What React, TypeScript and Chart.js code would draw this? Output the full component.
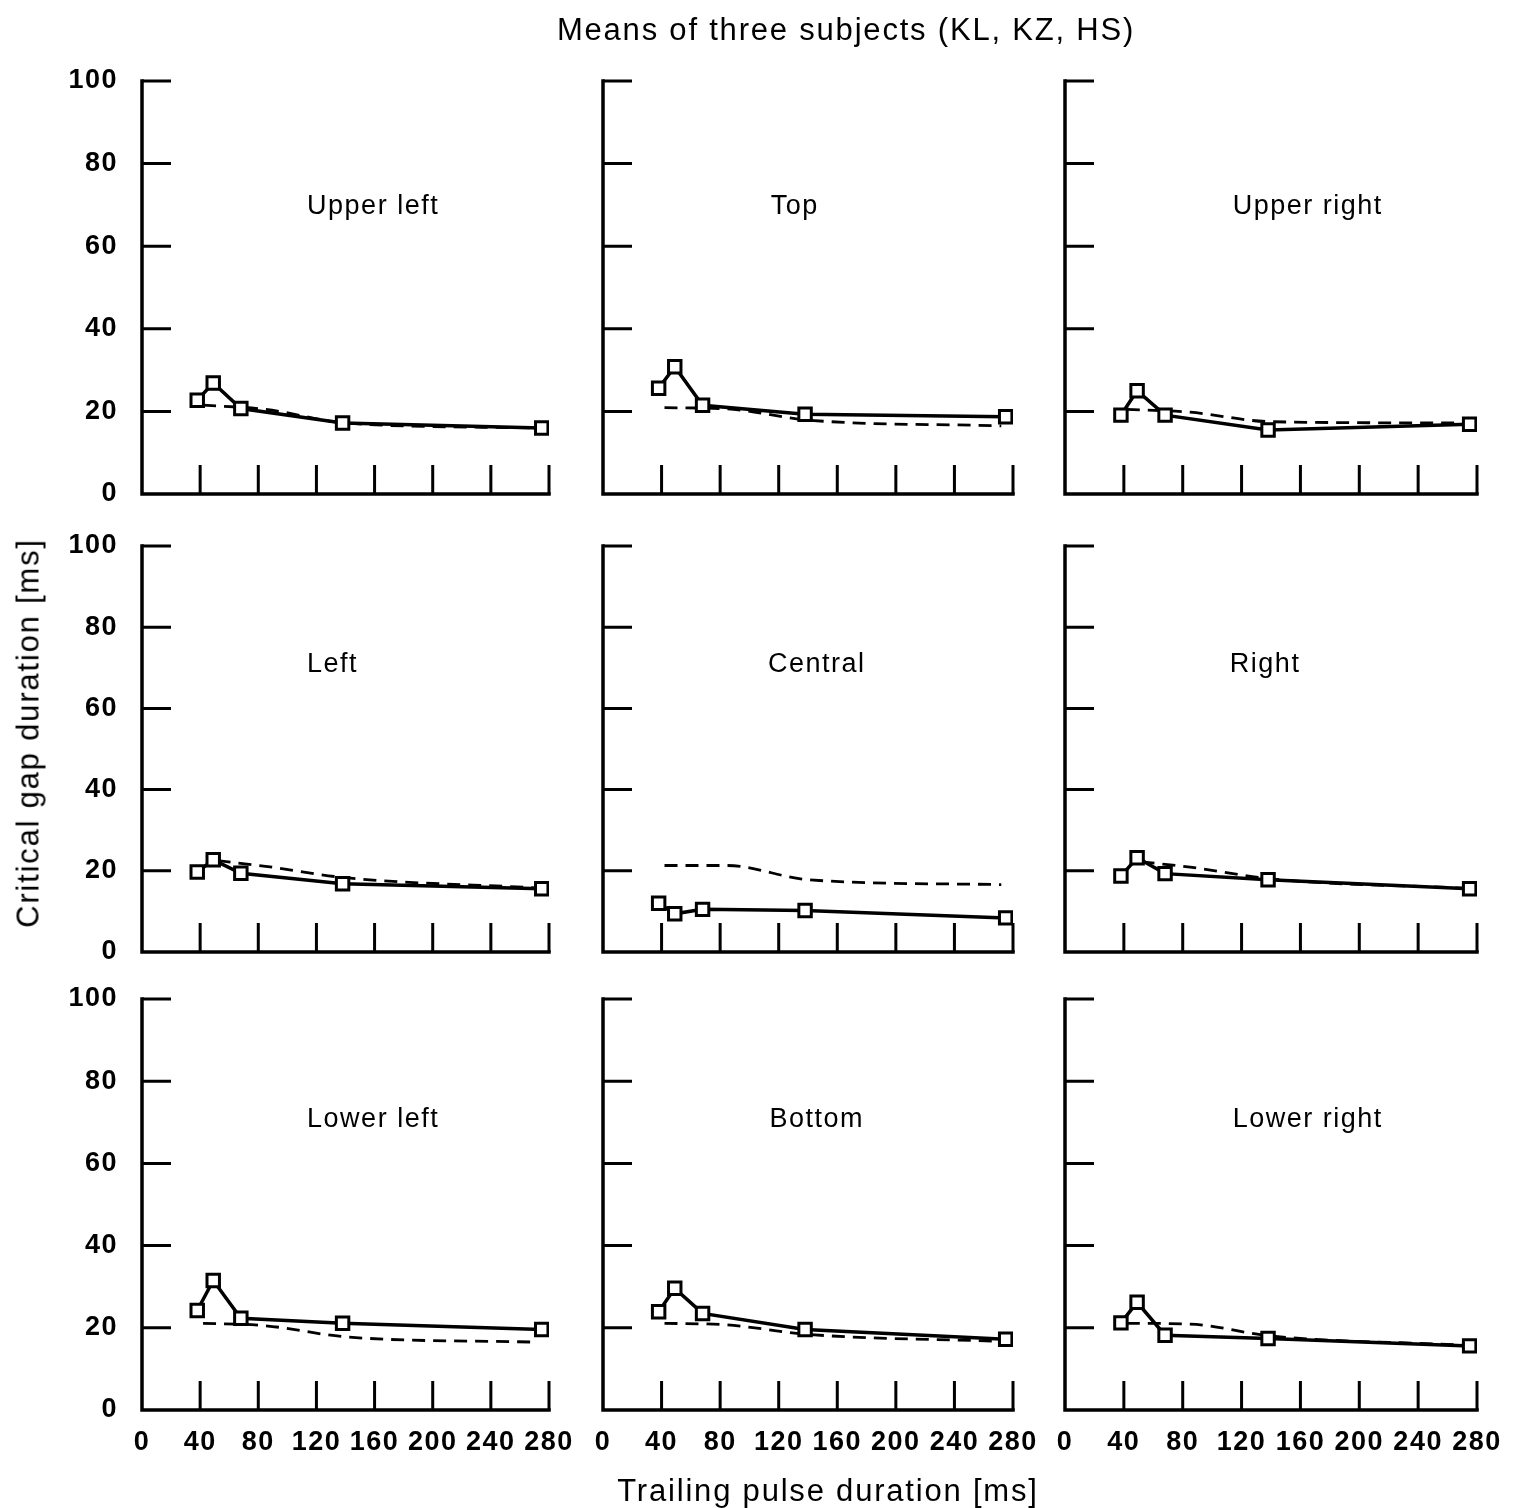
import React, { useEffect, useRef } from "react";
import { Chart, registerables } from "chart.js";

Chart.register(...registerables);

// ---------- data ----------
const panelNames = [
  "Upper left", "Top", "Upper right",
  "Left", "Central", "Right",
  "Lower left", "Bottom", "Lower right",
];

// trailing pulse durations (ms) of the measured points
const pulseDurations = [38, 49, 68, 138, 275];

// critical gap duration (ms), measured (solid line, squares)
const gapUpperLeft = [22.7, 26.9, 20.7, 17.2, 16.0];
const gapTop = [25.6, 30.8, 21.5, 19.3, 18.7];
const gapUpperRight = [19.1, 25.0, 19.1, 15.5, 16.9];
const gapLeft = [19.7, 22.7, 19.4, 16.8, 15.6];
const gapCentral = [12.0, 9.4, 10.5, 10.2, 8.4];
const gapRight = [18.7, 23.2, 19.3, 17.8, 15.6];
const gapLowerLeft = [24.2, 31.5, 22.3, 21.1, 19.6];
const gapBottom = [23.9, 29.6, 23.5, 19.6, 17.2];
const gapLowerRight = [21.2, 26.2, 18.2, 17.4, 15.6];

// reference curve (dashed line)
const refDurations = [42, 85, 140, 272];
const refDurationsSide = [52, 85, 140, 272];
const refUpperLeft = [21.5, 20.5, 17.2, 16.0];
const refTop = [20.9, 20.6, 17.9, 16.5];
const refUpperRight = [20.5, 19.8, 17.5, 17.2];
const refLeft = [22.5, 21.1, 18.3, 15.8];
const refCentral = [21.3, 21.3, 17.8, 16.6];
const refRight = [22.2, 20.9, 18.0, 15.7];
const refLowerLeft = [21.1, 20.5, 17.8, 16.5];
const refBottom = [21.1, 20.7, 18.4, 16.7];
const refLowerRight = [21.1, 20.9, 18.0, 15.8];

const gapSeries = [
  gapUpperLeft, gapTop, gapUpperRight,
  gapLeft, gapCentral, gapRight,
  gapLowerLeft, gapBottom, gapLowerRight,
];
const refSeries = [
  refUpperLeft, refTop, refUpperRight,
  refLeft, refCentral, refRight,
  refLowerLeft, refBottom, refLowerRight,
];
const refXs = [
  refDurations, refDurations, refDurations,
  refDurationsSide, refDurations, refDurationsSide,
  refDurations, refDurations, refDurations,
];

const xTickValues = [0, 40, 80, 120, 160, 200, 240, 280];
const yTickValues = [0, 20, 40, 60, 80, 100];

const titleText = "Means of three subjects (KL, KZ, HS)";
const xTitleText = "Trailing pulse duration [ms]";
const yTitleText = "Critical gap duration [ms]";

// ---------- layout (page pixels) ----------
const COLS = [
  { L: 142, R: 549 },
  { L: 603, R: 1013 },
  { L: 1065, R: 1477 },
];
const ROWS = [
  { T: 81, B: 494 },
  { T: 546, B: 952 },
  { T: 999, B: 1410 },
];
// label anchor in data units (x ms, y ms)
const labelAnchors = [
  [159, 69.5], [131, 69.5], [165, 69.5],
  [131, 70.7], [146, 70.7], [136, 70.7],
  [159, 70.7], [146, 70.7], [165, 70.7],
];

const FONT = '"Liberation Sans", Arial, Helvetica, sans-serif';
const PAD_L = 110;
const PAD_T = 50;
const PAD_R = 45;
const PAD_B = 70;

const framePlugin = {
  id: "frame",
  beforeDraw(chart: any) {
    chart.ctx.letterSpacing = "1.5px";
  },
  beforeDatasetsDraw(chart: any) {
    const { ctx, chartArea, scales } = chart;
    const { left, right, top, bottom } = chartArea;
    ctx.save();
    ctx.strokeStyle = "#000";
    ctx.lineWidth = 3.5;
    ctx.lineCap = "square";
    ctx.beginPath();
    ctx.moveTo(left, top);
    ctx.lineTo(left, bottom);
    ctx.lineTo(right, bottom);
    ctx.stroke();
    ctx.lineWidth = 3;
    ctx.lineCap = "butt";
    ctx.beginPath();
    for (const v of xTickValues) {
      if (v === 0) continue;
      const px = scales.x.getPixelForValue(v);
      ctx.moveTo(px, bottom);
      ctx.lineTo(px, bottom - 29);
    }
    for (const v of yTickValues) {
      if (v === 0) continue;
      const py = scales.y.getPixelForValue(v);
      ctx.moveTo(left, py);
      ctx.lineTo(left + 29, py);
    }
    ctx.stroke();
    ctx.restore();
  },
  afterDraw(chart: any) {
    const opts = chart.options.plugins.frame || {};
    const { ctx, scales } = chart;
    ctx.save();
    ctx.letterSpacing = "1.5px";
    ctx.font = `27px ${FONT}`;
    ctx.fillStyle = "#000";
    ctx.textAlign = "center";
    ctx.textBaseline = "middle";
    ctx.fillText(
      opts.label,
      scales.x.getPixelForValue(opts.lx),
      scales.y.getPixelForValue(opts.ly)
    );
    ctx.restore();
  },
};

function Panel({ idx }: { idx: number }) {
  const ref = useRef<HTMLCanvasElement | null>(null);
  const r = Math.floor(idx / 3);
  const c = idx % 3;
  const col = COLS[c];
  const row = ROWS[r];
  const w = col.R - col.L + PAD_L + PAD_R;
  const h = row.B - row.T + PAD_T + PAD_B;
  const showX = r === 2;
  const showY = c === 0;

  useEffect(() => {
    if (!ref.current) return;
    const tickFont = { family: FONT, size: 27, weight: "bold" as const };
    const chart = new Chart(ref.current, {
      type: "line",
      data: {
        datasets: [
          {
            data: pulseDurations.map((x, i) => ({ x, y: gapSeries[idx][i] })),
            borderColor: "#000",
            borderWidth: 3.5,
            pointStyle: "rect",
            pointRadius: 8.8,
            pointBackgroundColor: "#fff",
            pointBorderColor: "#000",
            pointBorderWidth: 3,
            tension: 0,
            fill: false,
          },
          {
            data: refXs[idx].map((x, i) => ({ x, y: refSeries[idx][i] })),
            borderColor: "#000",
            borderWidth: 2.8,
            borderDash: [13, 8],
            pointRadius: 0,
            cubicInterpolationMode: "monotone",
            fill: false,
          },
        ],
      },
      options: {
        animation: false,
        responsive: false,
        devicePixelRatio: 1,
        layout: { padding: { left: 0, top: PAD_T, right: PAD_R, bottom: 0 } },
        plugins: {
          legend: { display: false },
          tooltip: { enabled: false },
          frame: {
            label: panelNames[idx],
            lx: labelAnchors[idx][0],
            ly: labelAnchors[idx][1],
          },
        } as any,
        scales: {
          x: {
            type: "linear",
            min: 0,
            max: 280,
            grid: { display: false, drawTicks: false },
            border: { display: false },
            ticks: {
              display: showX,
              stepSize: 40,
              color: "#000",
              font: tickFont,
              padding: 16,
              maxRotation: 0,
              autoSkip: false,
            },
            afterFit(s: any) {
              s.height = PAD_B;
            },
          },
          y: {
            type: "linear",
            min: 0,
            max: 100,
            grid: { display: false, drawTicks: false },
            border: { display: false },
            ticks: {
              display: showY,
              stepSize: 20,
              color: "#000",
              font: tickFont,
              padding: 24,
            },
            afterFit(s: any) {
              s.width = PAD_L;
            },
          },
        },
      },
      plugins: [framePlugin],
    });
    return () => chart.destroy();
  }, [idx]);

  return (
    <canvas
      ref={ref}
      width={w}
      height={h}
      style={{
        position: "absolute",
        left: col.L - PAD_L,
        top: row.T - PAD_T,
        width: w,
        height: h,
      }}
    />
  );
}

export default function App() {
  const textStyle: React.CSSProperties = {
    position: "absolute",
    fontFamily: FONT,
    fontSize: 31,
    letterSpacing: "1.8px",
    lineHeight: "31px",
    color: "#000",
    whiteSpace: "nowrap",
    transform: "translate(-50%, -50%)",
  };
  return (
    <div
      style={{
        position: "absolute",
        left: 0,
        top: 0,
        width: 1517,
        height: 1508,
        background: "#fff",
        overflow: "hidden",
      }}
    >
      {panelNames.map((_, i) => (
        <Panel key={i} idx={i} />
      ))}
      <div style={{ ...textStyle, left: 846, top: 29 }}>{titleText}</div>
      <div style={{ ...textStyle, left: 828, top: 1490 }}>{xTitleText}</div>
      <div
        style={{
          ...textStyle,
          left: 28,
          top: 733,
          transform: "translate(-50%, -50%) rotate(-90deg)",
        }}
      >
        {yTitleText}
      </div>
    </div>
  );
}
